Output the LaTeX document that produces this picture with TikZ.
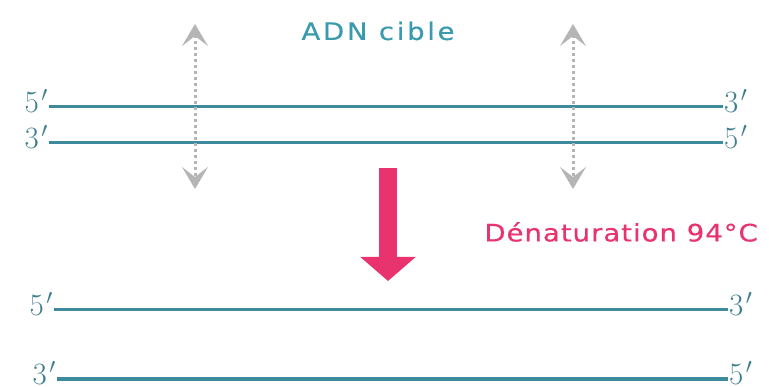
\RequirePackage{fix-cm}
\documentclass[tikz,border=0pt]{standalone}
\usepackage{fontspec}
\setsansfont{DejaVu Sans}[FakeStretch=1.15,FakeBold=0.4]
\usetikzlibrary{arrows.meta}
\definecolor{teal1}{HTML}{3D8A9C}
\definecolor{tealtxt}{HTML}{3A9BAE}
\definecolor{labcol}{HTML}{3F7E8E}
\definecolor{pinkc}{HTML}{E8336E}
\definecolor{grayc}{HTML}{B5B5B5}
\newcommand{\pr}[1]{$#1^{\kern2.5pt\prime}$}
\tikzset{
  strand/.style={teal1, line width=3pt},
  endlab/.style={labcol, inner sep=1pt, font=\fontsize{31}{31}\selectfont},
  sep/.style={grayc, line width=3pt, dash pattern=on 3pt off 3pt,
    {Stealth[length=22pt,width=26pt,inset=10pt]}-{Stealth[length=22pt,width=26pt,inset=10pt]}},
  heat/.style={pinkc, line width=18pt, -{Triangle[length=24pt,width=54pt]}},
  title/.style={inner sep=0pt, font=\sffamily\fontsize{24}{24}\selectfont}
}
\begin{document}
\begin{tikzpicture}[x=1pt,y=-1pt]
\useasboundingbox (0,0) rectangle (769,387);
% top double strand
\node[endlab, anchor=east] (t5) at (49,101) {\pr5};
\node[endlab, anchor=west] (t3r) at (723,101) {\pr3};
\node[endlab, anchor=east] (b3) at (49,137) {\pr3};
\node[endlab, anchor=west] (b5r) at (723,137) {\pr5};
\draw[strand] (t5.east |- 0,107) -- (t3r.west |- 0,107);
\draw[strand] (b3.east |- 0,143) -- (b5r.west |- 0,143);
% title
\node[title, tealtxt] (adn) at (378,31) {\addfontfeatures{LetterSpace=11}ADN cible};
% dotted separation arrows
\coordinate (g1a) at (195,24);
\coordinate (g1b) at (195,189);
\coordinate (g2a) at (573,24);
\coordinate (g2b) at (573,189);
\draw[sep] (g1a) -- (g1b);
\draw[sep] (g2a) -- (g2b);
% pink arrow
\coordinate (pa) at (388,168);
\coordinate (pb) at (388,281);
\draw[heat] (pa) -- (pb);
\node[title, pinkc, anchor=east] (den) at (758,232) {\addfontfeatures{LetterSpace=4}Dénaturation 94°C};
% separated strands
\node[endlab, anchor=east] (s5) at (54,304) {\pr5};
\node[endlab, anchor=west] (s3r) at (728,304) {\pr3};
\node[endlab, anchor=east] (u3) at (57,373) {\pr3};
\node[endlab, anchor=west] (u5r) at (728,373) {\pr5};
\draw[strand] (s5.east |- 0,310) -- (s3r.west |- 0,310);
\draw[strand, line width=4pt] (u3.east |- 0,379) -- (u5r.west |- 0,379);
\end{tikzpicture}
\end{document}
